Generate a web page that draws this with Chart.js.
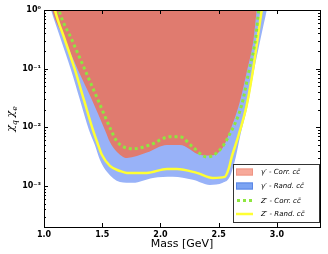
<!DOCTYPE html>
<html>
<head>
<meta charset="utf-8">
<script src="https://cdn.jsdelivr.net/npm/chart.js@4.4.1/dist/chart.umd.min.js"></script>
<style>
  html, body { margin: 0; padding: 0; background: #fff; }
  canvas { display: block; }
</style>
</head>
<body>
<canvas id="chart" width="328" height="254"></canvas>
<script>
// gamma' - correlated c cbar (red band, filled up to the top)
const corrMass = [1.051, 1.069, 1.180, 1.292, 1.412, 1.523, 1.566, 1.617, 1.712, 1.883, 2.055, 2.166, 2.338, 2.424, 2.535, 2.595, 2.681, 2.741, 2.801, 2.827, 2.844];
const corrVals = [1.48, 1.0, 0.308, 0.0951, 0.0293, 0.0090, 0.0056, 0.0040, 0.0030, 0.0037, 0.0050, 0.0050, 0.0034, 0.0033, 0.0045, 0.0084, 0.0271, 0.0879, 0.333, 1.0, 1.48];

// gamma' - random c cbar (blue band)
const randMass = [1.034, 1.060, 1.146, 1.232, 1.309, 1.386, 1.437, 1.480, 1.540, 1.652, 1.763, 1.935, 2.106, 2.278, 2.424, 2.535, 2.595, 2.647, 2.681, 2.750, 2.801, 2.861, 2.913, 2.930];
const randVals = [1.48, 1.0, 0.308, 0.0951, 0.0293, 0.0090, 0.0050, 0.0028, 0.00174, 0.00117, 0.00113, 0.00137, 0.00143, 0.00127, 0.00104, 0.00113, 0.00143, 0.00313, 0.0066, 0.0241, 0.0879, 0.333, 1.0, 1.48];

// Z' - correlated c cbar (green dotted)
const zCorrMass = [1.111, 1.129, 1.240, 1.352, 1.463, 1.575, 1.617, 1.669, 1.763, 1.909, 2.081, 2.166, 2.278, 2.398, 2.509, 2.578, 2.698, 2.758, 2.818, 2.844, 2.861];
const zCorrVals = [1.48, 1.0, 0.308, 0.0951, 0.0293, 0.0090, 0.0061, 0.0048, 0.0043, 0.0050, 0.0069, 0.0069, 0.0046, 0.0031, 0.0041, 0.0066, 0.0241, 0.0879, 0.333, 1.0, 1.48];

// Z' - random c cbar (yellow line)
const zRandMass = [1.077, 1.094, 1.180, 1.266, 1.343, 1.420, 1.459, 1.497, 1.566, 1.652, 1.712, 1.883, 2.055, 2.141, 2.312, 2.449, 2.552, 2.587, 2.612, 2.664, 2.741, 2.792, 2.835, 2.870, 2.887];
const zRandVals = [1.48, 1.0, 0.308, 0.0951, 0.0293, 0.0090, 0.0054, 0.0034, 0.0022, 0.0018, 0.00167, 0.00167, 0.00195, 0.00195, 0.00167, 0.00137, 0.00143, 0.0020, 0.00313, 0.0066, 0.0241, 0.0879, 0.333, 1.0, 1.48];

const seriesLabels = ["γ′ - Corr. cc̄", "γ′ - Rand. cc̄", "Z′ - Corr. cc̄", "Z′ - Rand. cc̄"];

const xTicks = [1.0, 1.5, 2.0, 2.5, 3.0];
const yTicks = [1e-3, 1e-2, 1e-1, 1];
const yTickLabels = ['10⁻³', '10⁻²', '10⁻¹', '10⁰'];

const RED = '#e07b6f';
const BLUE = '#98b2f8';
const GREEN = '#8ee63f';
const YELLOW = '#ffff33';

const pts = (xs, ys) => xs.map((x, i) => ({ x, y: ys[i] }));

// inward ticks, frame, rotated y title and the legend box
const decor = {
  id: 'decor',
  afterDraw(chart) {
    const { ctx, chartArea: a, scales: { x, y } } = chart;
    ctx.save();
    ctx.strokeStyle = '#000';
    ctx.lineWidth = 1;
    ctx.beginPath();
    xTicks.forEach(v => {
      const px = Math.round(x.getPixelForValue(v)) + 0.5;
      ctx.moveTo(px, a.bottom); ctx.lineTo(px, a.bottom - 4);
      ctx.moveTo(px, a.top); ctx.lineTo(px, a.top + 4);
    });
    for (let d = -4; d <= 0; d++) {
      for (let k = 1; k <= 9; k++) {
        const v = k * Math.pow(10, d);
        if (v < y.min || v > y.max) continue;
        const py = Math.round(y.getPixelForValue(v)) + 0.5;
        const len = k === 1 ? 4 : 2;
        ctx.moveTo(a.left, py); ctx.lineTo(a.left + len, py);
        ctx.moveTo(a.right, py); ctx.lineTo(a.right - len, py);
      }
    }
    ctx.stroke();
    ctx.strokeRect(Math.round(a.left) + 0.5, Math.round(a.top) + 0.5,
      Math.round(a.right - a.left), Math.round(a.bottom - a.top));

    // y title: chi_q chi_e
    ctx.translate(11, 119);
    ctx.rotate(-Math.PI / 2);
    ctx.fillStyle = '#000';
    ctx.textBaseline = 'alphabetic';
    const big = 'italic 11px "DejaVu Serif"';
    const small = 'italic 8px "DejaVu Serif"';
    const parts = [['χ', big, 0], ['q', small, 2.5], [' ', small, 0], ['χ', big, 0], ['e', small, 2.5]];
    let w = 0;
    parts.forEach(([t, f]) => { ctx.font = f; w += ctx.measureText(t).width; });
    let cx = -w / 2;
    parts.forEach(([t, f, dy]) => {
      ctx.font = f;
      ctx.fillText(t, cx, 3 + dy);
      cx += ctx.measureText(t).width;
    });
    ctx.restore();

    // legend
    ctx.save();
    const lx = 233, ly = 164, lw = 86, lh = 58;
    ctx.fillStyle = '#fff';
    ctx.fillRect(lx, ly, lw, lh);
    ctx.strokeStyle = '#333';
    ctx.lineWidth = 1;
    ctx.strokeRect(lx + 0.5, ly + 0.5, lw, lh);
    const rows = [172, 186, 200.5, 214];
    const hx0 = 236, hx1 = 253;
    // patches
    ctx.fillStyle = '#f7a99a';
    ctx.strokeStyle = '#ef9584';
    ctx.fillRect(hx0, rows[0] - 3.5, hx1 - hx0, 7);
    ctx.strokeRect(hx0 + 0.5, rows[0] - 3, hx1 - hx0 - 1, 6);
    ctx.fillStyle = '#7ca4f3';
    ctx.strokeStyle = '#5b87e6';
    ctx.fillRect(hx0, rows[1] - 3.5, hx1 - hx0, 7);
    ctx.strokeRect(hx0 + 0.5, rows[1] - 3, hx1 - hx0 - 1, 6);
    // dotted green
    ctx.strokeStyle = GREEN;
    ctx.lineWidth = 3;
    ctx.setLineDash([3, 3]);
    ctx.beginPath(); ctx.moveTo(hx0 + 1, rows[2]); ctx.lineTo(hx1, rows[2]); ctx.stroke();
    ctx.setLineDash([]);
    ctx.strokeStyle = YELLOW;
    ctx.lineWidth = 2.5;
    ctx.beginPath(); ctx.moveTo(hx0, rows[3]); ctx.lineTo(hx1, rows[3]); ctx.stroke();
    // text
    ctx.fillStyle = '#000';
    ctx.font = 'italic 7px "DejaVu Sans"';
    ctx.textBaseline = 'middle';
    seriesLabels.forEach((t, i) => ctx.fillText(t, 261, rows[i] + 0.5));
    ctx.restore();
  }
};

new Chart(document.getElementById('chart'), {
  type: 'line',
  data: {
    datasets: [
      {
        label: seriesLabels[2],
        data: pts(zCorrMass, zCorrVals),
        borderColor: GREEN,
        borderWidth: 3,
        borderDash: [3, 3],
        fill: false,
        order: 0
      },
      {
        label: seriesLabels[3],
        data: pts(zRandMass, zRandVals),
        borderColor: YELLOW,
        borderWidth: 2.5,
        fill: false,
        order: 1
      },
      {
        label: seriesLabels[0],
        data: pts(corrMass, corrVals),
        borderWidth: 0,
        borderColor: RED,
        backgroundColor: RED,
        fill: 'end',
        order: 2
      },
      {
        label: seriesLabels[1],
        data: pts(randMass, randVals),
        borderWidth: 0,
        borderColor: BLUE,
        backgroundColor: BLUE,
        fill: 'end',
        order: 3
      }
    ]
  },
  options: {
    responsive: false,
    animation: false,
    devicePixelRatio: 1,
    layout: { padding: { top: 10, right: 8, left: 0, bottom: 0 } },
    elements: {
      point: { radius: 0 },
      line: { cubicInterpolationMode: 'monotone' }
    },
    plugins: {
      legend: { display: false },
      tooltip: { enabled: false }
    },
    scales: {
      x: {
        type: 'linear',
        min: 1.0,
        max: 3.37,
        grid: { display: false, drawTicks: false },
        border: { display: false },
        afterBuildTicks: s => { s.ticks = xTicks.map(v => ({ value: v })); },
        afterFit: s => { s.height = 27; },
        ticks: {
          autoSkip: false,
          maxRotation: 0,
          padding: 3,
          color: '#000',
          font: { family: 'DejaVu Sans', size: 8, weight: 'bold' },
          callback: v => v.toFixed(1)
        },
        title: {
          display: true,
          text: 'Mass [GeV]',
          color: '#000',
          font: { family: 'DejaVu Sans', size: 11 },
          padding: { top: 0, bottom: 3 }
        }
      },
      y: {
        type: 'logarithmic',
        min: Math.pow(10, -3.7),
        max: 1,
        grid: { display: false, drawTicks: false },
        border: { display: false },
        afterBuildTicks: s => { s.ticks = yTicks.map(v => ({ value: v })); },
        afterFit: s => { s.width = 44; },
        ticks: {
          autoSkip: false,
          padding: 3,
          color: '#000',
          font: { family: 'DejaVu Sans', size: 8, weight: 'bold' },
          callback: (v, i) => yTickLabels[i]
        }
      }
    }
  },
  plugins: [decor]
});
</script>
</body>
</html>
